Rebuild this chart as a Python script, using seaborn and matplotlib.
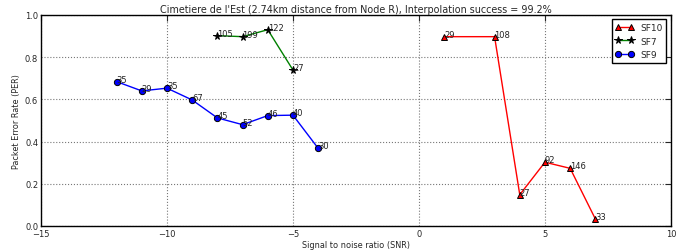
"""PER vs SNR for one gateway, per spreading factor."""
import matplotlib
matplotlib.use('Agg')
import matplotlib.pyplot as plt
import pandas as pd
import seaborn as sns

sf10_snr = [1, 3, 4, 5, 6, 7]
sf10_per = [0.897, 0.897, 0.148, 0.302, 0.273, 0.033]
sf10_count = [29, 108, 27, 92, 146, 33]

sf7_snr = [-8, -7, -6, -5]
sf7_per = [0.902, 0.897, 0.930, 0.739]
sf7_count = [105, 199, 122, 27]

sf9_snr = [-12, -11, -10, -9, -8, -7, -6, -5, -4]
sf9_per = [0.684, 0.640, 0.653, 0.597, 0.512, 0.480, 0.523, 0.525, 0.368]
sf9_count = [35, 29, 35, 67, 45, 52, 46, 40, 30]

series = [
    ('SF10', sf10_snr, sf10_per, sf10_count, 'red', '^', 'red', 4.5),
    ('SF7', sf7_snr, sf7_per, sf7_count, 'green', '*', 'black', 5.5),
    ('SF9', sf9_snr, sf9_per, sf9_count, 'blue', 'o', 'blue', 4.5),
]

sns.set_style('white')
plt.rcParams['font.family'] = ['DejaVu Sans']

fig = plt.figure(figsize=(6.91, 2.53), dpi=100)
ax = fig.add_axes([0.0593, 0.103, 0.9117, 0.834])

for name, snr, per, count, color, marker, face, msize in series:
    df = pd.DataFrame({'snr': snr, 'per': per})
    sns.lineplot(data=df, x='snr', y='per', ax=ax, color=color,
                 marker=marker, markersize=msize,
                 markerfacecolor=face, markeredgecolor='black',
                 markeredgewidth=0.7, linewidth=1, label=name,
                 sort=False, estimator=None)
    for x, y, n in zip(snr, per, count):
        ax.annotate(str(n), (x, y), fontsize=6, color='#222222')

ax.set_xlim(-15, 10)
ax.set_ylim(0, 1)
ax.set_xticks([-15, -10, -5, 0, 5, 10])
ax.set_yticks([0.0, 0.2, 0.4, 0.6, 0.8, 1.0])
ax.set_yticklabels(['0.0', '0.2', '0.4', '0.6', '0.8', '1.0'])
ax.grid(True, linestyle=':', color='#777777', linewidth=0.8)
ax.tick_params(direction='in', top=True, right=True, labelsize=6,
               length=4, width=0.8, pad=2)
for spine in ax.spines.values():
    spine.set_color('black')
    spine.set_linewidth(1)

ax.set_title("Cimetiere de l'Est (2.74km distance from Node R), "
             "Interpolation success = 99.2%", fontsize=6.9, pad=2)
ax.set_xlabel('Signal to noise ratio (SNR)', fontsize=5.9, labelpad=2)
ax.set_ylabel('Packet Error Rate (PER)', fontsize=5.9, labelpad=3)

leg = ax.legend(loc='upper right', fontsize=6.5, numpoints=2, fancybox=False,
                framealpha=1, edgecolor='black', borderaxespad=0.5,
                handlelength=2.0, labelspacing=0.5, borderpad=0.4)
leg.get_frame().set_linewidth(1)

fig.savefig('out.png', dpi=100)
